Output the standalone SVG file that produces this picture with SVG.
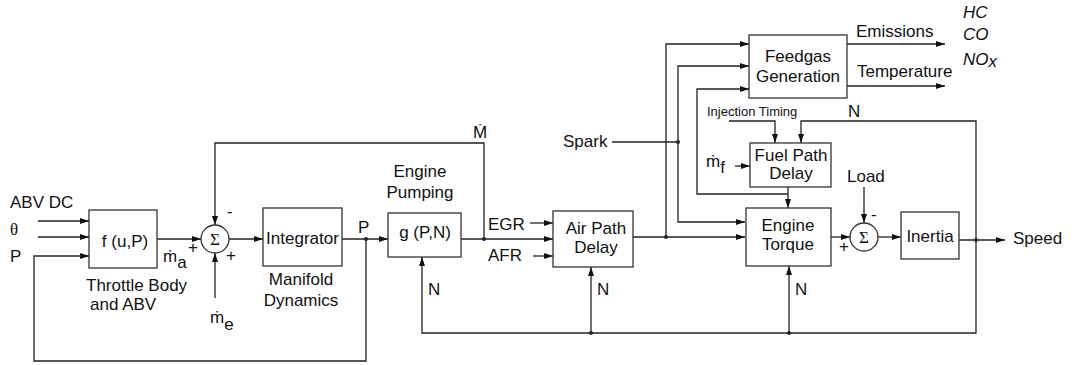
<svg xmlns="http://www.w3.org/2000/svg" width="1072" height="365" viewBox="0 0 1072 365">
<style>
text{font-family:"Liberation Sans",Arial,sans-serif;font-size:17px;fill:#111}
.c{text-anchor:middle}
.s{font-family:"Liberation Serif","Times New Roman",serif}
.sm{font-size:13px}
.it{font-style:italic}
.box{fill:#fff;stroke:#333;stroke-width:1.3}
.ln{fill:none;stroke:#222;stroke-width:1.3}
.ar{marker-end:url(#ah)}
.dot{fill:#222}
</style>
<defs>
<marker id="ah" markerUnits="userSpaceOnUse" markerWidth="10" markerHeight="8" refX="9" refY="3" orient="auto">
<path d="M0,0 L9,3 L0,6 z" fill="#111"/>
</marker>
</defs>
<rect width="1072" height="365" fill="#fff"/>
<g id="connectors">
<path class="ln ar" d="M38,221 H89"/>
<path class="ln ar" d="M38,237 H89"/>
<path class="ln ar" d="M366,239 V361 H34 V256 H89"/>
<path class="ln ar" d="M157,239 H201"/>
<path class="ln ar" d="M484,239 V143 H215 V225"/>
<path class="ln ar" d="M215,298 V253"/>
<path class="ln ar" d="M229,239 H263"/>
<path class="ln ar" d="M342,239 H388"/>
<path class="ln ar" d="M461,239 H553"/>
<path class="ln ar" d="M530,223 H553"/>
<path class="ln ar" d="M533,256 H553"/>
<path class="ln ar" d="M633,237 H745"/>
<path class="ln ar" d="M666,237 V44 H749"/>
<path class="ln" d="M612,142 H678"/>
<path class="ln ar" d="M678,142 V66 H749"/>
<path class="ln ar" d="M678,142 V222 H745"/>
<path class="ln ar" d="M788,187 V208"/>
<path class="ln ar" d="M788,194 H697 V89 H749"/>
<path class="ln ar" d="M847,44 H945"/>
<path class="ln ar" d="M847,86 H945"/>
<path class="ln ar" d="M729,121 H775 V143"/>
<path class="ln ar" d="M976,240 V121 H801 V143"/>
<path class="ln ar" d="M735,166 H750"/>
<path class="ln ar" d="M831,237 H850"/>
<path class="ln ar" d="M864,187 V223"/>
<path class="ln ar" d="M878,237 H901"/>
<path class="ln ar" d="M959,240 H1005"/>
<path class="ln ar" d="M976,240 V333 H422 V257"/>
<path class="ln ar" d="M591,333 V267"/>
<path class="ln ar" d="M789,333 V266"/>
<circle class="dot" cx="366" cy="239" r="2"/>
<circle class="dot" cx="484" cy="239" r="2"/>
<circle class="dot" cx="666" cy="237" r="2"/>
<circle class="dot" cx="678" cy="142" r="2"/>
<circle class="dot" cx="976" cy="240" r="2"/>
<circle class="dot" cx="591" cy="333" r="2"/>
<circle class="dot" cx="789" cy="333" r="2"/>
</g>
<g id="inputs">
<text x="10" y="208">ABV DC</text>
<text class="s" x="10" y="235">θ</text>
<text x="10" y="262">P</text>
</g>
<g id="throttle">
<rect class="box" x="89" y="210" width="68" height="58"/>
<text class="c" x="125" y="247">f (u,P)</text>
<text x="86" y="291" font-size="17.5">Throttle Body</text>
<text x="90" y="310" font-size="17.5">and ABV</text>
<text x="163" y="262">ṁ<tspan dy="6">a</tspan></text>
<text x="188" y="253">+</text>
</g>
<g id="sum1">
<circle class="box" cx="215" cy="239" r="14"/>
<text class="c s" x="215" y="245" font-size="16">Σ</text>
<text x="227" y="217">-</text>
<text x="226" y="261">+</text>
<text x="210" y="323">ṁ<tspan dy="7">e</tspan></text>
</g>
<g id="integrator">
<rect class="box" x="263" y="208" width="79" height="58"/>
<text class="c" x="302.5" y="244" font-size="15.5">Integrator</text>
<text class="c" x="301" y="285">Manifold</text>
<text class="c" x="301" y="306">Dynamics</text>
<text x="358" y="233">P</text>
</g>
<g id="pumping">
<rect class="box" x="388" y="213" width="73" height="44"/>
<text class="c" x="425" y="238">g (P,N)</text>
<text class="c" x="420" y="177">Engine</text>
<text class="c" x="420" y="198">Pumping</text>
<text x="473" y="138">Ṁ</text>
<text x="428" y="295">N</text>
</g>
<g id="airpath">
<rect class="box" x="553" y="211" width="80" height="56"/>
<text class="c" x="596" y="234">Air Path</text>
<text class="c" x="596" y="253">Delay</text>
<text x="488" y="230">EGR</text>
<text x="488" y="261">AFR</text>
<text x="597" y="295">N</text>
</g>
<g id="spark">
<text x="563" y="147">Spark</text>
</g>
<g id="feedgas">
<rect class="box" x="749" y="35" width="98" height="63"/>
<text class="c" x="798" y="62">Feedgas</text>
<text class="c" x="798" y="82">Generation</text>
<text x="856" y="37">Emissions</text>
<text x="857" y="77">Temperature</text>
<text class="it" x="963" y="18">HC</text>
<text class="it" x="963" y="40">CO</text>
<text class="it" x="963" y="65">NO<tspan dy="2">x</tspan></text>
</g>
<g id="fuelpath">
<rect class="box" x="750" y="143" width="81" height="44"/>
<text class="c" x="791" y="161">Fuel Path</text>
<text class="c" x="791" y="179">Delay</text>
<text class="sm" x="707" y="116">Injection Timing</text>
<text x="848" y="117">N</text>
<text x="706" y="167">ṁ<tspan dy="6">f</tspan></text>
</g>
<g id="torque">
<rect class="box" x="746" y="208" width="85" height="58"/>
<text class="c" x="788" y="231">Engine</text>
<text class="c" x="788" y="250">Torque</text>
<text x="795" y="295">N</text>
</g>
<g id="sum2">
<circle class="box" cx="864" cy="237" r="14"/>
<text class="c s" x="864" y="243" font-size="16">Σ</text>
<text x="847" y="182">Load</text>
<text x="871" y="220">-</text>
<text x="839" y="252">+</text>
</g>
<g id="inertia">
<rect class="box" x="901" y="212" width="58" height="47"/>
<text class="c" x="930" y="242">Inertia</text>
<text x="1013" y="244">Speed</text>
</g>
</svg>
